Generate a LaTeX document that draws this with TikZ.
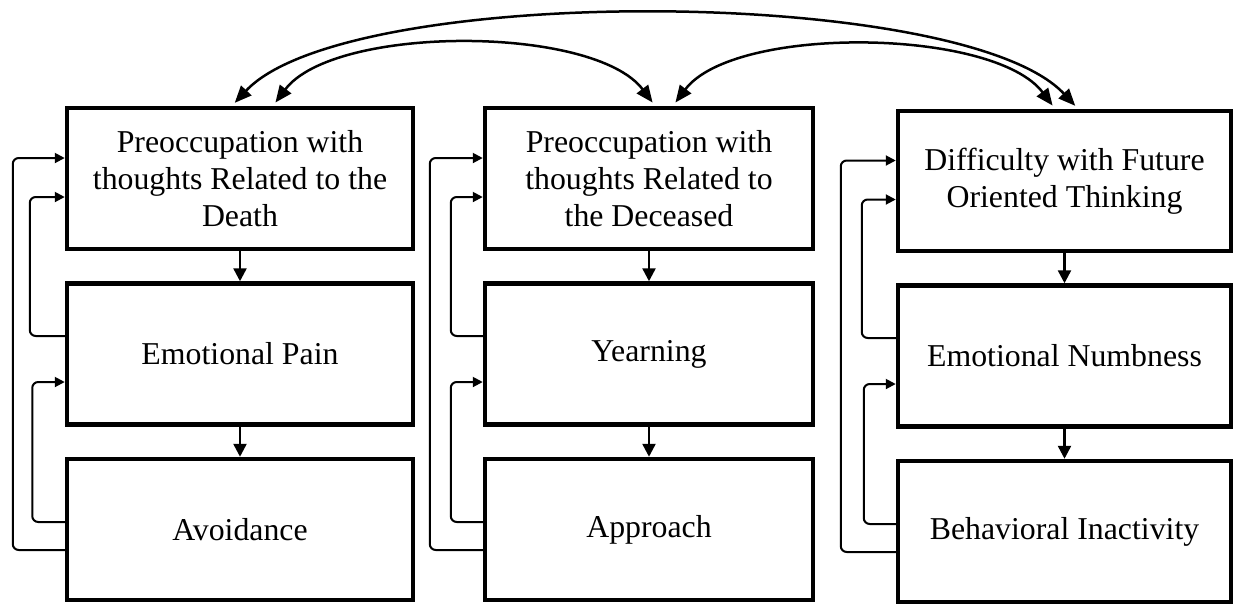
\documentclass[tikz,border=0pt]{standalone}
\usepackage{fontspec}
\setmainfont{Liberation Serif}
\usetikzlibrary{positioning,arrows.meta}

\begin{document}
\begin{tikzpicture}[->,>={Triangle[length=0.26cm,width=0.26cm]},node distance=0.6cm,
		box/.style={rectangle,draw,line width=0.09cm,minimum height=2.82cm,align=center,font=\fontsize{18.1}{21}\selectfont},
		flow/.style={line width=0.05cm},
		feedback/.style={line width=0.04cm,rounded corners=0.12cm,-{Triangle[length=0.2cm,width=0.2cm]}},
		link/.style={line width=0.05cm,{Triangle[length=0.34cm,width=0.28cm]}-{Triangle[length=0.34cm,width=0.28cm]},shorten <=0.08cm,shorten >=0.08cm}]
		\useasboundingbox (0,0) rectangle (24.7,-12.08);

		% first column
		\node[box,minimum width=6.92cm] (death) at (4.8,-3.57) {Preoccupation with\\thoughts Related to the\\Death};
		\node[box,minimum width=6.92cm] (pain) [below=of death] {Emotional Pain};
		\node[box,minimum width=6.92cm] (avoid) [below=of pain] {Avoidance};

		% second column
		\node[box,minimum width=6.56cm] (deceased) at (12.98,-3.57) {Preoccupation with\\thoughts Related to\\the Deceased};
		\node[box,minimum width=6.56cm] (yearn) [below=of deceased] {Yearning};
		\node[box,minimum width=6.56cm] (approach) [below=of yearn] {Approach};

		% third column
		\node[box,minimum width=6.66cm,minimum height=2.8cm] (future) at (21.29,-3.62) {Difficulty with Future\\Oriented Thinking};
		\node[box,minimum width=6.66cm] (numb) [below=of future] {Emotional Numbness};
		\node[box,minimum width=6.66cm] (inactive) [below=of numb] {Behavioral Inactivity};

		\path[flow] (death) edge (pain)
			(pain) edge (avoid)
			(deceased) edge (yearn)
			(yearn) edge (approach)
			(future) edge (numb)
			(numb) edge (inactive);

		% feedback on the left
		\draw[feedback] ([yshift=-0.41cm]avoid.west) -- ++(-1.04,0) |- ([yshift=0.41cm]death.west);
		\draw[feedback] ([yshift=0.36cm]pain.west) -- ++(-0.7,0) |- ([yshift=-0.37cm]death.west);
		\draw[feedback] ([yshift=0.15cm]avoid.west) -- ++(-0.65,0) |- ([yshift=-0.56cm]pain.west);

		\draw[feedback] ([yshift=-0.41cm]approach.west) -- ++(-1.06,0) |- ([yshift=0.41cm]deceased.west);
		\draw[feedback] ([yshift=0.36cm]yearn.west) -- ++(-0.64,0) |- ([yshift=-0.37cm]deceased.west);
		\draw[feedback] ([yshift=0.15cm]approach.west) -- ++(-0.64,0) |- ([yshift=-0.56cm]yearn.west);

		\draw[feedback] ([yshift=-0.41cm]inactive.west) -- ++(-1.1,0) |- ([yshift=0.41cm]future.west);
		\draw[feedback] ([yshift=0.36cm]numb.west) -- ++(-0.68,0) |- ([yshift=-0.37cm]future.west);
		\draw[feedback] ([yshift=0.15cm]inactive.west) -- ++(-0.64,0) |- ([yshift=-0.56cm]numb.west);

		% links across the top
		\draw[link] ([xshift=-0.16cm]death.north) .. controls +(2.3,2.46) and +(-2.3,2.46) .. ([xshift=0.27cm]future.north);
		\draw[link] ([xshift=0.66cm]death.north) .. controls +(1.22,1.62) and +(-1.22,1.62) .. ([xshift=0.12cm]deceased.north);
		\draw[link] ([xshift=0.48cm]deceased.north) .. controls +(1.22,1.62) and +(-1.22,1.62) .. ([xshift=-0.19cm]future.north);
\end{tikzpicture}
\end{document}
